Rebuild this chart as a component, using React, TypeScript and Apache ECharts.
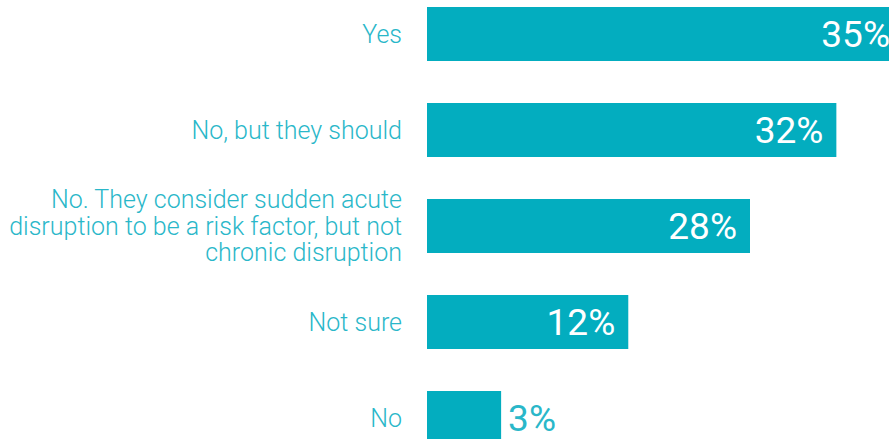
import React, { useEffect, useRef } from "react";
import * as echarts from "echarts";

const categories = [
  "Yes",
  "No, but they should",
  "No. They consider sudden acute\ndisruption to be a risk factor, but not\nchronic disruption",
  "Not sure",
  "No",
];
// bar lengths as drawn in the picture (axis units, 35 = longest bar)
const barValues = [35, 30.1, 23.75, 14.8, 5.45];
// percentages printed on the bars
const labelValues = [35, 32, 28, 12, 3];

const BAR = "#03adbf";
const TEXT = "#2ab7c9";

export default function App() {
  const ref = useRef<HTMLDivElement>(null);
  useEffect(() => {
    document.body.style.margin = "0";
    document.body.style.overflow = "hidden";
    const chart = echarts.init(ref.current!, null, { renderer: "svg" });
    chart.setOption({
      animation: false,
      grid: { left: 427, right: 0, top: 0, bottom: 0, containLabel: false },
      xAxis: { type: "value", min: 0, max: 35, show: false },
      yAxis: {
        type: "category",
        inverse: true,
        data: categories,
        axisLine: { show: false },
        axisTick: { show: false },
        splitLine: { show: false },
        axisLabel: {
          margin: 25,
          color: TEXT,
          fontFamily: "Roboto",
          fontWeight: 300,
          fontSize: 25,
          lineHeight: 26.5,
          align: "right",
        },
      },
      series: [
        {
          type: "bar",
          barWidth: 54,
          data: barValues.map((v, i) => ({
            value: v,
            label:
              i === barValues.length - 1
                ? { position: "right", color: TEXT, distance: 7 }
                : { position: "insideRight", color: "#ffffff", distance: 13 },
          })),
          itemStyle: { color: BAR },
          label: {
            show: true,
            fontFamily: "Roboto",
            fontWeight: 400,
            fontSize: 37,
            formatter: (p: any) => labelValues[p.dataIndex] + "%",
          },
        },
      ],
    });
    return () => chart.dispose();
  }, []);
  return (
    <div
      ref={ref}
      style={{ position: "absolute", left: 0, top: -14, width: 903, height: 480 }}
    />
  );
}
